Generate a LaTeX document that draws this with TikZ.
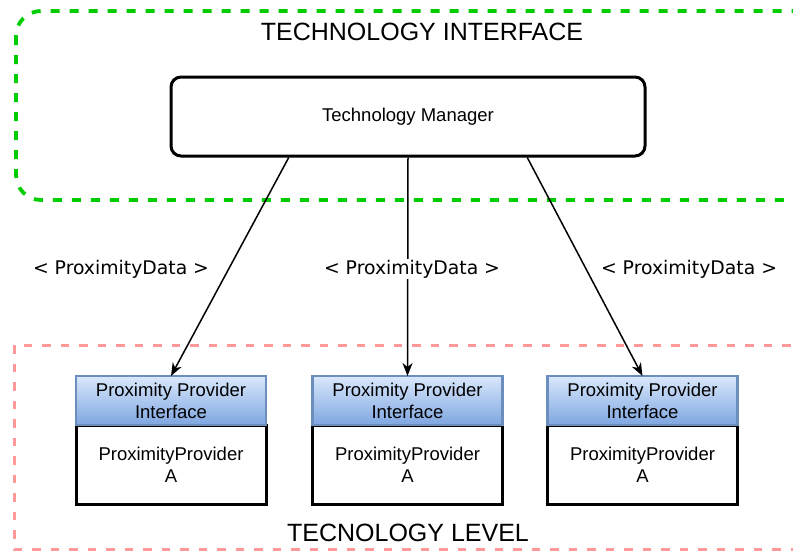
\documentclass[tikz,border=0pt]{standalone}
\usepackage{fontspec}
\setmainfont{Liberation Sans}
\newfontfamily\labelfont{DejaVu Sans}
\usetikzlibrary{positioning,arrows.meta,calc}
\definecolor{ifgreen}{HTML}{00CC00}
\definecolor{lvlpink}{HTML}{FF9999}
\definecolor{hdrtop}{HTML}{DAE8FC}
\definecolor{hdrbot}{HTML}{7EA6E0}
\definecolor{hdrline}{HTML}{6C8EBF}

\begin{document}
\begin{tikzpicture}[x=1pt,y=-1pt,>={Stealth[length=13pt,width=10pt,inset=4pt]},
  title/.style={font=\fontsize{25}{30}\selectfont},
  provbody/.style={draw,line width=3pt,fill=white,minimum width=190pt,minimum height=79pt,inner sep=0pt,outer sep=0pt,align=center,font=\fontsize{18.5}{22}\selectfont},
  provhdr/.style={draw=hdrline,line width=2.5pt,top color=hdrtop,bottom color=hdrbot,minimum width=190pt,minimum height=49pt,inner sep=0pt,outer sep=0pt,align=center,font=\fontsize{18.5}{22}\selectfont},
  pdlabel/.style={font=\labelfont\fontsize{18.8}{22}\selectfont,inner sep=1pt}]
\useasboundingbox (0,0) rectangle (793,552);
\clip (0,0) rectangle (793,552);

% frames
\draw[ifgreen,line width=3.8pt,dash pattern=on 9pt off 10pt,rounded corners=25pt] (16,11) rectangle (818,200);
\draw[lvlpink,line width=3pt,dash pattern=on 8.5pt off 10pt] (14,345) rectangle (818,549);
\node[title] (iftitle) at (422,32) {TECHNOLOGY INTERFACE};
\node[title] (lvltitle) at (408,533) {TECNOLOGY LEVEL};

\node[draw,line width=3pt,rounded corners=10pt,minimum width=474pt,minimum height=79pt,font=\fontsize{18.5}{22}\selectfont] (tm) at (408,116.5) {Technology Manager};

% providers
\foreach \i/\px in {1/171,2/407.5,3/642.5}{
  \node[provbody] (prov\i) at (\px,464.5) {ProximityProvider\\A};
  \node[provhdr,above=0pt of prov\i] (hdr\i) {Proximity Provider\\Interface};
}

\draw[->,line width=1.5pt] ($(tm.south west)!0.25!(tm.south east)$) -- (hdr1.north);
\draw[->,line width=1.5pt] (tm.south) -- (hdr2.north);
\draw[->,line width=1.5pt] ($(tm.south west)!0.75!(tm.south east)$) -- (hdr3.north);

\node[pdlabel] (pd1) at (121,269) {< ProximityData >};
\node[pdlabel,fill=white] (pd2) at (412,269) {< ProximityData >};
\node[pdlabel] (pd3) at (689,269) {< ProximityData >};
\end{tikzpicture}
\end{document}
